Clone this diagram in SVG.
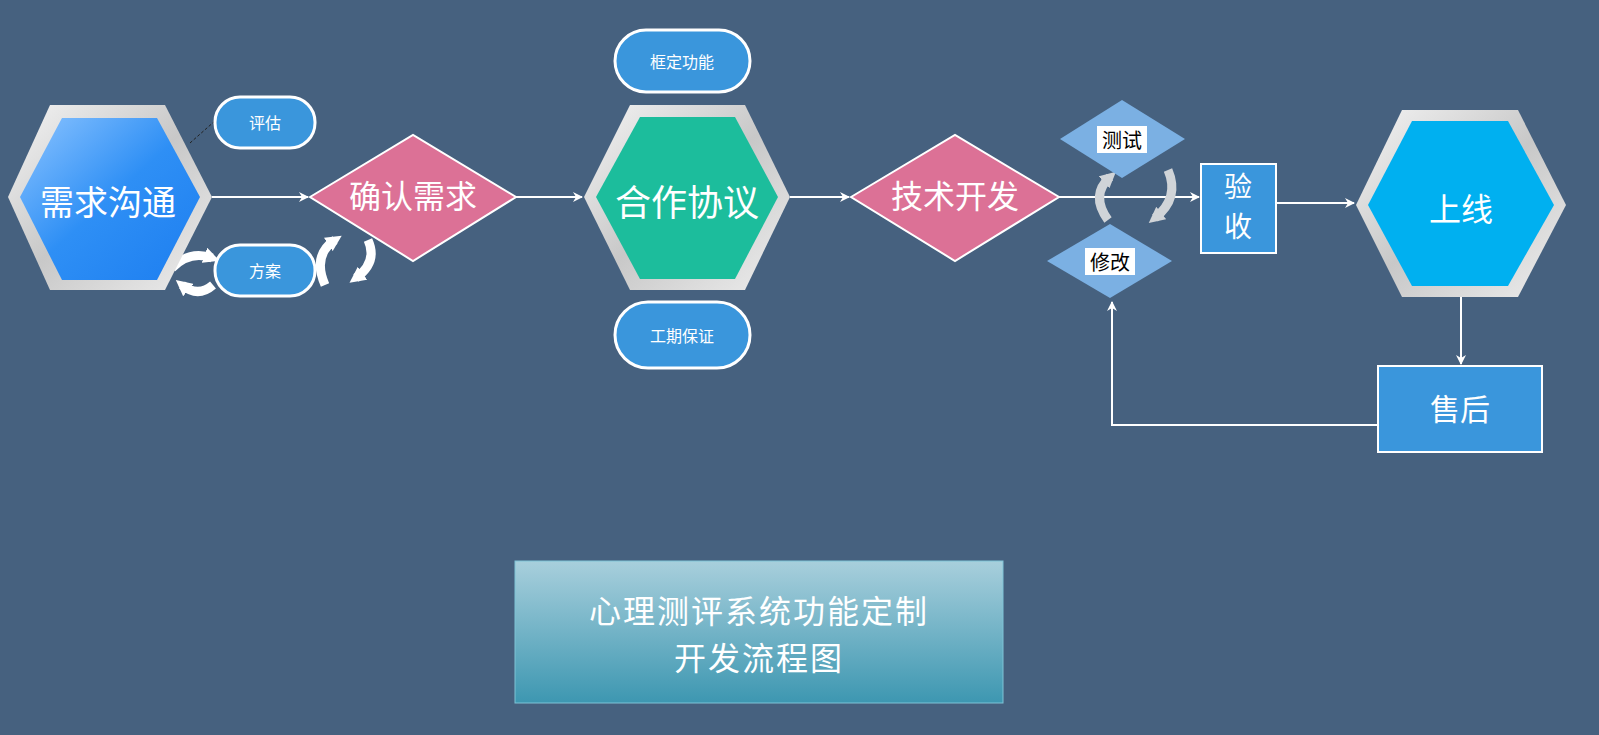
<svg xmlns="http://www.w3.org/2000/svg" width="1599" height="735" viewBox="0 0 1599 735">
<defs>
<linearGradient id="silver" x1="0" y1="0" x2="1" y2="1"><stop offset="0" stop-color="#f4f4f4"/><stop offset="0.5" stop-color="#c8c8c8"/><stop offset="1" stop-color="#eeeeee"/></linearGradient>
<linearGradient id="blue" x1="0" y1="0" x2="1" y2="1"><stop offset="0" stop-color="#8cc4ff"/><stop offset="0.5" stop-color="#2e8ff5"/><stop offset="1" stop-color="#1d7ef0"/></linearGradient>
<linearGradient id="title" x1="0" y1="0" x2="0" y2="1"><stop offset="0" stop-color="#a8cfdc"/><stop offset="1" stop-color="#3d97b1"/></linearGradient>
<marker id="ah" markerWidth="10" markerHeight="10" refX="9" refY="5" orient="auto" markerUnits="userSpaceOnUse"><path d="M0,0 L10,5 L0,10 L3,5 Z" fill="#fff"/></marker>
<marker id="ch" markerWidth="16" markerHeight="16" refX="8" refY="8" orient="auto" markerUnits="userSpaceOnUse"><path d="M0,0 L16,8 L0,16 Z" fill="#fff"/></marker>
<marker id="cg" markerWidth="16" markerHeight="16" refX="8" refY="8" orient="auto" markerUnits="userSpaceOnUse"><path d="M0,0 L16,8 L0,16 Z" fill="#d0d4d8"/></marker>
</defs>
<style>
text{font-family:"Noto Sans CJK SC","Noto Sans",sans-serif;fill:#fff;text-anchor:middle;dominant-baseline:central}
.pill{fill:#3a96dc;stroke:#fff;stroke-width:3}
.pink{fill:#dc7196;stroke:#fff;stroke-width:2}
.sq{fill:#3a96dc;stroke:#fff;stroke-width:2}
.lt{fill:#7bb0e3}
.ln{stroke:#fff;stroke-width:2;fill:none}
.cv{stroke:#fff;stroke-width:9;fill:none}
.cvg{stroke:#d0d4d8;stroke-width:9;fill:none}
</style>
<rect width="1599" height="735" fill="#46617f"/>
<g id="connectors">
<path class="ln" d="M212,197 H308" marker-end="url(#ah)"/>
<path class="ln" d="M516,197 H582" marker-end="url(#ah)"/>
<path class="ln" d="M790,197 H849" marker-end="url(#ah)"/>
<path class="ln" d="M1059,197 H1199" marker-end="url(#ah)"/>
<path class="ln" d="M1276,203 H1354" marker-end="url(#ah)"/>
<path class="ln" d="M1461,297 V364" marker-end="url(#ah)"/>
<path class="ln" d="M1378,425 H1112 V302" marker-end="url(#ah)"/>
<path d="M190,143 L216,120" stroke="#222" stroke-width="1" stroke-dasharray="3,2" fill="none"/>
<path class="cv" d="M172,268 Q190,250 212,258" marker-end="url(#ch)"/>
<path class="cv" d="M213,285 Q198,298 182,285" marker-end="url(#ch)"/>
<path class="cv" d="M325,285 Q312,255 335,240" marker-end="url(#ch)"/>
<path class="cv" d="M368,240 Q378,262 356,278" marker-end="url(#ch)"/>
<path class="cvg" d="M1108,220 Q1090,195 1110,177" marker-end="url(#cg)"/>
<path class="cvg" d="M1168,170 Q1180,198 1155,218" marker-end="url(#cg)"/>
</g>
<g id="n1"><polygon points="8,197 50,105 165,105 212,197 165,290 50,290" fill="url(#silver)"/><polygon points="20,197 62,118 157,118 200,197 157,280 62,280" fill="url(#blue)"/><text x="108" y="200" font-size="34">需求沟通</text></g>
<g id="n2"><rect class="pill" x="215" y="97" width="100" height="51" rx="25"/><text x="265" y="122" font-size="16" font-family="Noto Serif CJK SC,serif">评估</text></g>
<g id="n3"><rect class="pill" x="215" y="245" width="100" height="51" rx="25"/><text x="265" y="270" font-size="16">方案</text></g>
<g id="n4"><polygon class="pink" points="310,197 413,135 516,197 413,261"/><text x="413" y="194" font-size="32">确认需求</text></g>
<g id="n5"><polygon points="584,197 630,105 745,105 790,197 745,290 630,290" fill="url(#silver)"/><polygon points="596,197 640,117 735,117 778,197 735,279 640,279" fill="#1cbd9c"/><text x="687" y="200" font-size="36">合作协议</text></g>
<g id="n6"><rect class="pill" x="615" y="30" width="135" height="62" rx="31"/><text x="682" y="61" font-size="16">框定功能</text></g>
<g id="n7"><rect class="pill" x="615" y="302" width="135" height="66" rx="33"/><text x="682" y="335" font-size="16">工期保证</text></g>
<g id="n8"><polygon class="pink" points="851,197 955,135 1059,197 955,261"/><text x="955" y="194" font-size="32">技术开发</text></g>
<g id="n9"><polygon class="lt" points="1060,139 1122,100 1185,139 1122,178"/><rect x="1097" y="126" width="50" height="27" fill="#fff"/><text x="1122" y="139" font-size="20" style="fill:#000">测试</text></g>
<g id="n10"><polygon class="lt" points="1047,261 1110,224 1172,261 1110,298"/><rect x="1085" y="248" width="50" height="27" fill="#fff"/><text x="1110" y="261" font-size="20" style="fill:#000">修改</text></g>
<g id="n11"><rect class="sq" x="1201" y="164" width="75" height="89"/><text x="1238" y="185" font-size="28">验</text><text x="1238" y="225" font-size="28">收</text></g>
<g id="n12"><polygon points="1356,205 1402,110 1518,110 1566,205 1518,297 1402,297" fill="url(#silver)"/><polygon points="1368,205 1412,121 1508,121 1554,205 1508,286 1412,286" fill="#00b0f0"/><text x="1461" y="207" font-size="32">上线</text></g>
<g id="n13"><rect class="sq" x="1378" y="366" width="164" height="86"/><text x="1460" y="407" font-size="30">售后</text></g>
<g id="title"><rect x="515" y="561" width="488" height="142" fill="url(#title)" stroke="#7fc3d6"/><text x="759" y="609" font-size="32" letter-spacing="2">心理测评系统功能定制</text><text x="759" y="656" font-size="32" letter-spacing="2">开发流程图</text></g>
</svg>
